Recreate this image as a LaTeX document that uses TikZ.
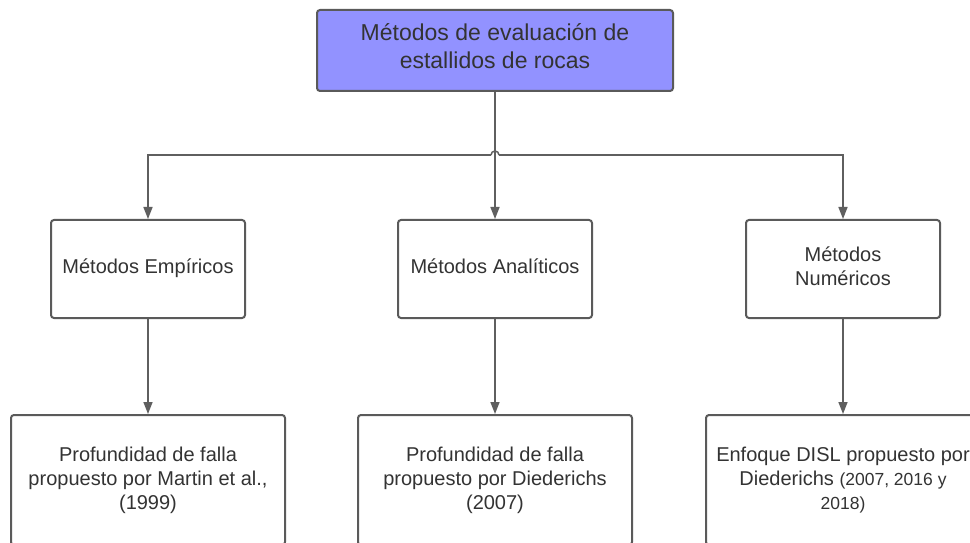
\documentclass[tikz,border=0pt]{standalone}
\usepackage{fontspec}
\setmainfont{Liberation Sans}
\usetikzlibrary{arrows.meta}
\definecolor{boxline}{RGB}{90,90,90}
\definecolor{linkgray}{RGB}{95,95,95}
\definecolor{textgray}{RGB}{51,51,51}
\definecolor{headfill}{RGB}{146,146,255}
\newcommand{\yrs}{\fontsize{17.5}{24}\selectfont}
\tikzset{
	metbox/.style={draw=boxline, line width=2pt, rounded corners=3pt, fill=white, text=textgray, align=center, inner sep=0pt, minimum width=194pt, minimum height=98pt, text depth=6pt, font=\fontsize{20}{24}\selectfont},
	refbox/.style={metbox, minimum width=274pt, minimum height=130pt, text depth=4.2pt},
	headbox/.style={metbox, fill=headfill, minimum width=356pt, minimum height=81pt, text depth=8pt, font=\fontsize{23}{28}\selectfont},
	link/.style={draw=linkgray, line width=1.5pt},
	tip/.style={link, -{Triangle[width=9pt,length=12pt]}}
}
\begin{document}
\begin{tikzpicture}[x=1pt,y=1pt]
		\pgfmathsetmacro{\hop}{4}
		\pgfmathsetmacro{\rowy}{387}
		\clip (0,0) rectangle (970,542);
		\fill[white] (0,0) rectangle (970,542);
		\node[headbox] (head) at (495,491.5) {Métodos de evaluación de\\estallidos de rocas};
		\node[metbox] (emp) at (148,273) {Métodos Empíricos};
		\node[metbox] (ana) at (495,273) {Métodos Analíticos};
		\node[metbox] (num) at (843,273) {Métodos\\Numéricos};
		\node[refbox] (martin) at (148,62) {Profundidad de falla\\propuesto por Martin et al.,\\(1999)};
		\node[refbox] (died) at (495,62) {Profundidad de falla\\propuesto por Diederichs\\(2007)};
		\node[refbox] (disl) at (843,62) {Enfoque DISL propuesto por\\Diederichs {\yrs (2007, 2016 y}\\{\yrs 2018)}};
		\coordinate (split) at (495,\rowy);
		\draw[tip] (head.south) -- (ana.north);
		\draw[tip] ([xshift=-\hop]split) -| (emp.north);
		\draw[tip] ([xshift=\hop]split) -| (num.north);
		\draw[link] ([xshift=-\hop]split) arc (180:0:\hop);
		\draw[tip] (emp.south) -- (martin.north);
		\draw[tip] (ana.south) -- (died.north);
		\draw[tip] (num.south) -- (disl.north);
	\end{tikzpicture}
\end{document}
